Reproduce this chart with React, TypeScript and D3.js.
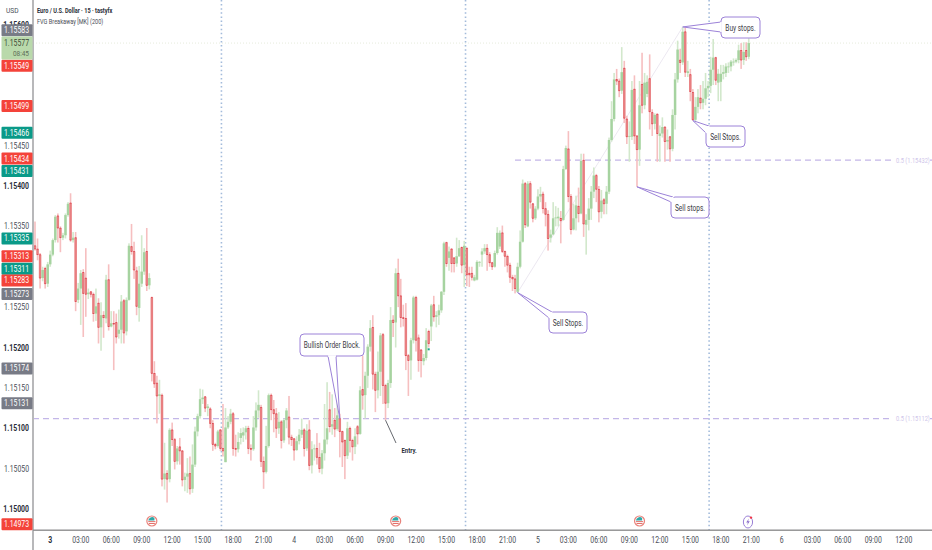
import React from 'react';
import * as d3 from 'd3';

// prices are stored as points above 1.15000 (1 point = 0.00001)
const opens = [
  326,322,315,286,298,279,303,315,333,363,
  348,336,339,364,379,333,336,259,273,293,
  286,266,269,266,242,255,225,240,236,284,
  226,230,231,217,222,258,220,259,325,319,
  295,249,279,294,319,277,262,168,156,140,
  141,37,44,37,98,86,59,77,72,36,
  40,44,25,55,96,115,136,139,125,124,
  106,80,78,98,75,58,101,108,118,75,
  74,88,91,95,100,75,74,101,122,126,
  59,46,78,141,123,118,100,108,85,110,
  114,89,87,73,84,92,98,75,98,54,
  74,75,64,50,69,86,123,102,110,99,
  112,96,85,66,100,85,77,102,93,148,
  141,165,201,225,167,147,170,216,153,131,
  156,234,231,292,264,237,236,190,184,209,
  262,212,197,183,187,220,226,253,238,240,
  246,269,330,311,322,311,304,313,324,302,
  323,292,292,283,284,305,315,319,323,315,
  305,300,317,325,342,319,313,302,287,285,
  269,300,331,403,350,403,378,360,372,387,
  390,372,365,336,340,360,360,360,358,421,
  446,387,346,360,375,366,432,352,358,372,
  393,413,396,368,383,378,393,457,483,532,
  530,518,546,483,461,461,520,462,445,526,
  500,514,533,491,477,489,462,465,473,455,
  461,446,488,532,556,553,591,540,538,516,
  482,498,509,503,508,521,524,544,559,528,
  529,539,540,547,548,553,554,556,568,556,
  568,560,
];
const highs = [
  356,335,317,300,300,306,320,335,364,366,
  350,342,366,380,391,343,343,280,296,297,
  323,273,270,268,273,261,256,245,290,303,
  245,245,242,247,265,260,262,329,353,331,
  300,301,339,323,348,292,263,183,165,160,
  143,82,48,100,107,88,78,88,73,45,
  63,65,80,102,118,149,148,140,130,126,
  110,82,98,99,130,125,115,124,120,92,
  95,100,101,103,103,80,115,132,147,129,
  65,103,143,143,135,125,120,110,112,125,
  140,92,88,90,99,112,100,105,110,84,
  80,94,82,73,130,157,145,142,125,140,
  118,97,86,108,102,87,100,104,152,190,
  170,204,234,240,170,195,218,218,155,160,
  250,240,298,310,285,253,255,192,212,264,
  264,216,198,192,224,222,254,264,245,253,
  270,331,331,325,323,312,336,333,325,332,
  324,300,300,290,308,307,323,328,328,318,
  306,320,349,345,351,320,315,305,290,290,
  305,345,408,405,406,406,379,375,396,399,
  393,380,370,346,380,375,373,369,425,450,
  468,390,378,388,398,440,440,365,385,400,
  423,415,400,395,385,400,460,505,540,545,
  533,572,555,487,480,530,537,463,530,565,
  540,537,563,495,490,490,475,485,474,470,
  462,495,540,580,570,597,597,555,545,520,
  510,520,525,530,540,530,560,582,560,545,
  550,550,552,553,556,558,558,575,577,578,
  578,583,
];
const lows = [
  320,308,273,282,273,275,300,313,330,330,
  318,333,335,362,331,330,245,255,228,213,
  238,260,262,232,233,205,196,212,230,221,
  225,172,205,211,205,205,215,258,315,285,
  240,232,275,290,270,272,158,150,106,118,
  28,24,8,33,78,49,55,55,28,22,
  20,18,20,52,90,112,130,120,115,100,
  72,74,76,72,65,58,99,105,66,65,
  70,80,83,86,68,60,72,97,113,52,
  25,44,76,110,95,88,93,75,82,100,
  80,78,60,72,80,88,65,72,48,44,
  60,55,45,43,60,80,95,92,89,97,
  64,52,37,62,70,60,68,80,92,123,
  112,150,195,148,120,137,140,130,110,125,
  150,213,200,250,225,226,172,140,160,205,
  195,170,163,178,184,200,208,232,225,228,
  243,265,300,295,293,293,300,312,292,275,
  276,275,283,282,283,300,300,316,295,300,
  296,299,315,322,317,300,293,280,270,267,
  268,298,330,348,349,372,355,358,370,380,
  366,350,320,330,339,350,350,329,357,420,
  380,340,345,345,355,365,337,315,345,358,
  385,380,355,360,365,365,390,455,480,525,
  510,514,478,452,430,457,452,399,425,490,
  495,510,470,462,470,430,430,460,430,445,
  430,443,470,528,540,550,535,535,505,481,
  478,490,495,495,500,510,515,525,525,505,
  505,532,535,540,542,549,552,552,545,550,
  555,557,
];
const closes = [
  322,315,286,296,279,303,315,333,362,348,
  336,339,364,378,333,336,257,273,292,267,
  266,268,266,242,251,225,240,237,284,226,
  230,229,213,222,257,218,259,326,319,296,
  251,279,294,318,277,286,168,155,140,142,
  37,44,37,98,86,59,75,72,36,40,
  44,25,55,96,115,136,138,125,127,106,
  80,78,96,75,72,101,108,118,75,74,
  83,94,95,100,75,74,101,122,129,59,
  46,78,141,123,118,100,108,85,110,122,
  89,86,73,84,92,98,75,97,54,74,
  75,64,50,69,86,100,102,105,99,116,
  96,83,66,100,85,77,90,93,147,141,
  165,201,224,167,147,170,215,153,131,156,
  234,231,292,264,237,236,190,184,209,262,
  209,184,184,187,209,205,252,238,240,246,
  269,329,304,319,304,304,313,323,302,326,
  290,290,287,287,306,306,319,323,315,305,
  300,317,342,342,319,313,302,287,285,273,
  300,331,403,352,403,380,360,372,387,390,
  372,365,335,340,360,361,362,357,421,447,
  387,346,360,376,366,431,353,358,372,393,
  413,396,368,382,378,393,457,483,532,530,
  518,541,484,461,462,519,462,445,500,500,
  528,529,492,477,488,465,465,473,455,457,
  446,488,532,569,553,591,541,542,517,482,
  498,510,503,508,521,524,544,559,531,539,
  539,541,548,548,554,554,556,568,556,566,
  560,577,
];

const priceTicks = [600, 550, 500, 450, 400, 350, 300, 250, 200, 150, 100, 50, 0];
const boldTicks = [600, 400, 200, 100, 0];

const tagPrices = [583, 549, 499, 466, 434, 431, 335, 313, 311, 283, 273, 174, 131, -27];
const tagKinds = ['grey', 'red', 'red', 'teal', 'red', 'teal', 'teal', 'red', 'teal', 'red', 'grey', 'grey', 'grey', 'red'];
const lastPrice = 577;
const countdown = '08:45';

const timeLabels = ['3', '03:00', '06:00', '09:00', '12:00', '15:00', '18:00', '21:00', '4', '03:00', '06:00', '09:00', '12:00', '15:00', '18:00', '21:00', '5', '03:00', '06:00', '09:00', '12:00', '15:00', '18:00', '21:00', '6', '03:00', '06:00', '09:00', '12:00'];

const sessionBreaks = [73.4, 169.5, 265.4];
const flagCandles = [46, 142, 238];
const boltCandle = 280.7;
const fibLevels = [112, 432];
const fibNames = ['0.5 (1.15112)', '0.5 (1.15432)'];

const W = 932;
const H = 550;
const FONT = 'Roboto, "Noto Sans", sans-serif';
const PURPLE = '#9c82d8';
const tagFill: Record<string, string> = { grey: '#787b86', red: '#f4433a', teal: '#0a9a88' };
// the price scale pushes crowded tags apart, px offset per tag
const tagNudge = [-8, 0, 0, 0, 0, 10, 0, 0, 11, 0, 5.5, 0, 0, -6.5];

// first candle sits at x=35, 2.54px per 15 minute bar
const x = d3.scaleLinear().domain([0, 100]).range([35, 289]);
const y = d3.scaleLinear().domain([0, 600]).range([509, 24.5]);
const priceText = (p: number) => (1.15 + p / 100000).toFixed(5);

// the reference text is squeezed sideways, so every label goes through this
const Txt: React.FC<{ x: number; y: number; size?: number; anchor?: string; weight?: number; fill?: string; squeeze?: number; children: React.ReactNode }> = ({ x: tx, y: ty, size = 8.3, anchor = 'start', weight = 400, fill = '#3c3f46', squeeze = 0.83, children }) => (
  <g transform={`translate(${tx},${ty}) scale(${squeeze},1)`}>
    <text fontFamily={FONT} fontSize={size} fontWeight={weight} fill={fill} textAnchor={anchor as any}>{children}</text>
  </g>
);

const Callout: React.FC<{ tip: [number, number]; box: [number, number, number, number]; a: [number, number]; b: [number, number]; label: string }> = ({ tip, box, a, b, label }) => {
  const [bx, by, bw, bh] = box;
  return (
    <g>
      <rect x={bx} y={by} width={bw} height={bh} rx={4} fill="#fff" stroke={PURPLE} strokeWidth={1} />
      <path d={`M${a[0]},${a[1]}L${tip[0]},${tip[1]}L${b[0]},${b[1]}`} fill="#fff" stroke={PURPLE} strokeWidth={1} />
      <line x1={a[0]} y1={a[1]} x2={b[0]} y2={b[1]} stroke="#fff" strokeWidth={1.6} />
      <Txt x={bx + bw / 2} y={by + bh / 2 + 3} size={8.6} anchor="middle" fill="#3a3a3f" squeeze={0.76}>{label}</Txt>
    </g>
  );
};

const Flag: React.FC<{ cx: number }> = ({ cx }) => (
  <g>
    <circle cx={cx} cy={521} r={5} fill="#fff" stroke="#e8837c" strokeWidth={1.2} />
    <path d={`M${cx - 3.6},${521 - 0.4}A3.8,3.8 0 0 1 ${cx + 2.6},${521 - 3}L${cx + 2.6},${521 - 0.4}Z`} fill="#2fa8a8" />
    <rect x={cx - 3.6} y={521.2} width={7.2} height={0.9} fill="#e0605a" />
    <rect x={cx - 3} y={523.1} width={6} height={0.9} fill="#e0605a" />
  </g>
);

export default function App() {
  const candles = closes.map((c, i) => ({ i, o: opens[i], h: highs[i], l: lows[i], c }));
  const tip = (i: number, p: number): [number, number] => [x(i), y(p)];

  return (
    <svg width={W} height={H} viewBox={`0 0 ${W} ${H}`} style={{ position: 'absolute', left: 0, top: 0, display: 'block', background: '#fff' }}>
      {/* last price line */}
      <line x1={33} x2={W} y1={y(lastPrice)} y2={y(lastPrice)} stroke="#e6ebdc" strokeWidth={1} strokeDasharray="1 2" />

      {sessionBreaks.map(b => (
        <line key={b} x1={x(b)} x2={x(b)} y1={0} y2={530} stroke="#a3bbdb" strokeWidth={1.6} strokeDasharray="1.5 2.6" />
      ))}

      {/* faint fib diagonal */}
      <line x1={x(190)} y1={y(268)} x2={x(255)} y2={y(597)} stroke="#ece8f1" strokeWidth={1} />

      {/* fib levels */}
      <line x1={33} x2={893} y1={y(fibLevels[0])} y2={y(fibLevels[0])} stroke="#c3b6e8" strokeWidth={1.3} strokeDasharray="6 4" />
      <line x1={515} x2={893} y1={y(fibLevels[1])} y2={y(fibLevels[1])} stroke="#c3b6e8" strokeWidth={1.3} strokeDasharray="6 4" />
      {fibLevels.map((f, i) => (
        <g key={f}>
          <Txt x={896} y={y(f) + 2.6} size={7.2} fill="#cfc6ea" squeeze={0.79}>{fibNames[i]}</Txt>
          <line x1={930} x2={932} y1={y(f)} y2={y(f)} stroke="#c3b6e8" strokeWidth={1.3} />
        </g>
      ))}

      {/* candles */}
      {candles.map(d => {
        const up = d.c >= d.o;
        const top = y(Math.max(d.o, d.c));
        const bot = y(Math.min(d.o, d.c));
        return (
          <g key={d.i}>
            <rect x={x(d.i) - 0.8} width={1.6} y={y(d.h)} height={y(d.l) - y(d.h)} fill={up ? '#d2e8cc' : '#f6bfc0'} />
            <rect x={x(d.i) - 1.25} width={2.5} y={top} height={Math.max(bot - top, 0.8)} fill={up ? '#a6d3a0' : '#e87e80'} />
            {!up && <rect x={x(d.i) - 0.8} width={1.6} y={top - 0.3} height={0.9} fill="#df4650" />}
            {!up && <rect x={x(d.i) - 0.8} width={1.6} y={bot - 0.5} height={0.9} fill="#df4650" />}
          </g>
        );
      })}
      <rect x={x(155) - 1} y={y(199)} width={2} height={2} fill="#18a58a" />

      {/* drawings */}
      <Callout tip={[x(120), y(112)]} box={[300, 334, 64, 22]} a={[328, 356]} b={[336, 356]} label="Bullish Order Block." />
      <Callout tip={tip(190, 268)} box={[549, 312, 38, 21]} a={[552, 312]} b={[549, 318]} label="Sell Stops." />
      <Callout tip={tip(237, 399)} box={[671, 197, 38, 21]} a={[673, 197]} b={[671, 202]} label="Sell stops." />
      <Callout tip={tip(259, 481)} box={[706, 126, 39, 21]} a={[709, 126]} b={[706, 133]} label="Sell Stops." />
      <Callout tip={tip(255, 597)} box={[721, 17, 39, 21]} a={[721, 22]} b={[721, 32]} label="Buy stops." />
      <line x1={x(138)} y1={y(110)} x2={396} y2={443} stroke="#55585f" strokeWidth={0.9} />
      <Txt x={401.5} y={453} size={7.2} weight={700} fill="#2a2e39">Entry.</Txt>

      {/* events */}
      {flagCandles.map(c => <Flag key={c} cx={x(c)} />)}
      <g>
        <ellipse cx={x(boltCandle)} cy={522} rx={4.6} ry={6} fill="#fff" stroke="#9a7fd6" strokeWidth={1} />
        <path d={`M${x(boltCandle) + 1},${518.5}L${x(boltCandle) - 1.8},${522.6}L${x(boltCandle)},${522.6}L${x(boltCandle) - 1},${525.6}L${x(boltCandle) + 1.8},${521.2}L${x(boltCandle) + 0.1},${521.2}Z`} fill="#8a6cc9" />
        <circle cx={x(boltCandle) + 3} cy={517.6} r={1.2} fill="#f23645" />
      </g>

      {/* price scale */}
      <rect x={0} y={0} width={32} height={H} fill="#fff" />
      <rect x={32} y={0} width={2} height={H} fill="#b8b8ba" />
      <rect x={33} y={529.5} width={W - 33} height={1.4} fill="#8e8e90" />
      <Txt x={6} y={13} size={8} fill="#4a4e57">USD</Txt>
      {priceTicks.map(p => {
        const bold = boldTicks.includes(p);
        return (
          <Txt key={p} x={29} y={y(p) + 3} anchor="end" weight={bold ? 700 : 400} fill={bold ? '#2a2e39' : '#4a4e57'}>{priceText(p)}</Txt>
        );
      })}
      {tagPrices.map((p, i) => (
        <g key={p}>
          <rect x={1.5} y={y(p) + tagNudge[i] - 6} width={31} height={12} rx={1} fill={tagFill[tagKinds[i]]} />
          <Txt x={29} y={y(p) + tagNudge[i] + 3} anchor="end" fill="#fff" >{priceText(p)}</Txt>
        </g>
      ))}
      <rect x={1.5} y={y(lastPrice) - 6.5} width={31} height={23} rx={1} fill="#b9d9ab" />
      <Txt x={29} y={y(lastPrice) + 3} anchor="end" fill="#3d4a38">{priceText(lastPrice)}</Txt>
      <Txt x={29} y={y(lastPrice) + 13} anchor="end" size={7.8} fill="#5f6e58">{countdown}</Txt>

      {/* time axis */}
      {timeLabels.map((t, k) => (
        <Txt key={k} x={x(6 + k * 12)} y={543} anchor="middle" weight={t === '3' ? 700 : 400} fill={t === '3' ? '#2a2e39' : '#4a4e57'}>{t}</Txt>
      ))}

      {/* header */}
      <Txt x={37} y={13} size={8} weight={700} fill="#2a2e39" squeeze={0.7}>Euro / U.S. Dollar · 15 · tastyfx</Txt>
      <Txt x={37} y={24} size={8} fill="#4a4e57" squeeze={0.7}>FVG Breakaway [MK] (200)</Txt>
    </svg>
  );
}
